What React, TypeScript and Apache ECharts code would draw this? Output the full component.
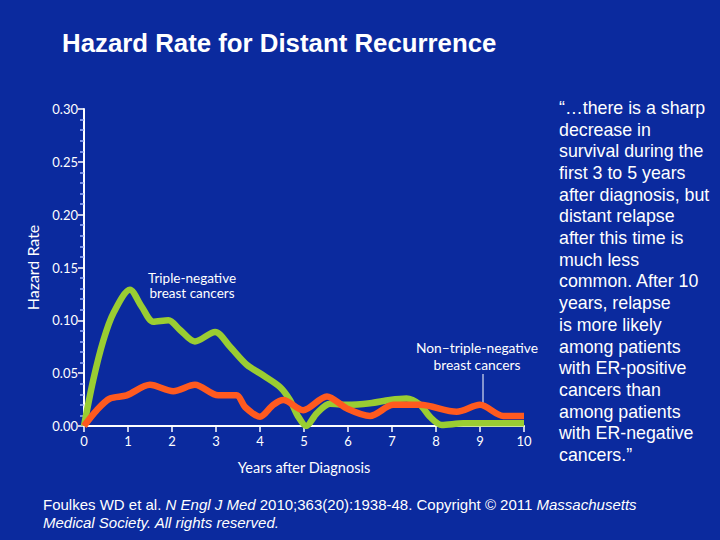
import React, { useEffect, useRef } from "react";
import * as echarts from "echarts";

const tripleNegX = [0, 0.21, 0.44, 0.67, 1.045, 1.31, 1.575, 1.92, 2.18, 2.52, 2.98, 3.32, 3.7, 4.07, 4.45, 4.68, 4.87, 5.05, 5.29, 5.59, 5.97, 6.5, 6.95, 7.33, 7.64, 7.86, 8.13, 8.62, 10.0];
const tripleNegY = [0, 0.0435, 0.081, 0.107, 0.129, 0.113, 0.0987, 0.1, 0.091, 0.08, 0.089, 0.075, 0.058, 0.048, 0.037, 0.0246, 0.0088, 0, 0.012, 0.021, 0.02, 0.0215, 0.0246, 0.026, 0.02, 0.0088, 0.001, 0.0025, 0.0025];

const nonTripleX = [0, 0.29, 0.59, 0.97, 1.5, 2.03, 2.52, 3.05, 3.47, 3.66, 4.0, 4.3, 4.53, 4.98, 5.52, 5.97, 6.5, 7.03, 7.64, 8.47, 9.0, 9.53, 10.0];
const nonTripleY = [0, 0.015, 0.026, 0.029, 0.039, 0.033, 0.039, 0.029, 0.029, 0.018, 0.0088, 0.02, 0.0246, 0.015, 0.028, 0.0167, 0.0095, 0.02, 0.02, 0.0135, 0.02, 0.0095, 0.0095];

const xTicks = [0, 1, 2, 3, 4, 5, 6, 7, 8, 9, 10];
const yTicks = ["0.00", "0.05", "0.10", "0.15", "0.20", "0.25", "0.30"];

const quoteLines = [
  "\u201c\u2026there is a sharp",
  "decrease in",
  "survival during the",
  "first 3 to 5 years",
  "after diagnosis, but",
  "distant relapse",
  "after this time is",
  "much less",
  "common. After 10",
  "years, relapse",
  "is more likely",
  "among patients",
  "with ER-positive",
  "cancers than",
  "among patients",
  "with ER-negative",
  "cancers.\u201d",
];

const BG = "#0B2A9E";
const GREEN = "#9ACD32";
const ORANGE = "#FF5A1F";
const FONT = "Lato";
const SANS = "'Liberation Sans', Arial, sans-serif";

export default function App() {
  const ref = useRef<HTMLDivElement>(null);
  useEffect(() => {
    if (!ref.current) return;
    const chart = echarts.init(ref.current, null, { renderer: "svg" });
    const pairs = (xs: number[], ys: number[]) => xs.map((x, i) => [x, ys[i]]);
    chart.setOption({
      animation: false,
      backgroundColor: BG,
      grid: { left: 84, right: 196, top: 109, bottom: 114 },
      xAxis: {
        type: "value",
        min: 0,
        max: 10,
        interval: 1,
        name: "Years after Diagnosis",
        nameLocation: "middle",
        nameGap: 34,
        nameTextStyle: { color: "#ffffff", fontSize: 14.5, fontFamily: FONT },
        axisLine: { lineStyle: { color: "#ffffff", width: 2 } },
        axisTick: { show: true, length: 6, lineStyle: { color: "#ffffff", width: 1.5 } },
        axisLabel: {
          color: "#ffffff",
          fontSize: 13,
          fontFamily: FONT,
          margin: 8,
          formatter: (v: number) => String(xTicks.indexOf(v) >= 0 ? v : ""),
        },
        splitLine: { show: false },
      },
      yAxis: {
        type: "value",
        min: 0,
        max: 0.3,
        interval: 0.05,
        name: "Hazard Rate",
        nameLocation: "middle",
        nameGap: 44,
        nameRotate: 90,
        nameTextStyle: { color: "#ffffff", fontSize: 16, fontFamily: FONT },
        axisLine: { show: true, lineStyle: { color: "#ffffff", width: 2 } },
        axisTick: { show: true, length: 6, lineStyle: { color: "#ffffff", width: 1.5 } },
        minorTick: { show: true, splitNumber: 5, length: 4, lineStyle: { color: "#9fb3ff", width: 1.5 } },
        axisLabel: {
          color: "#ffffff",
          fontSize: 13,
          fontFamily: FONT,
          margin: 6,
          formatter: (v: number) => yTicks[Math.round(v / 0.05)] ?? "",
        },
        splitLine: { show: false },
      },
      series: [
        {
          type: "line",
          name: "Triple-negative breast cancers",
          data: pairs(tripleNegX, tripleNegY),
          smooth: 0.3,
          showSymbol: false,
          lineStyle: { color: GREEN, width: 6.5 },
          z: 2,
        },
        {
          type: "line",
          name: "Non-triple-negative breast cancers",
          data: pairs(nonTripleX, nonTripleY),
          smooth: 0.3,
          showSymbol: false,
          lineStyle: { color: ORANGE, width: 6.5 },
          z: 3,
        },
      ],
      graphic: [
        {
          type: "text",
          left: 62,
          top: 30,
          style: {
            text: "Hazard Rate for Distant Recurrence",
            fill: "#ffffff",
            font: `bold 25.8px ${SANS}`,
          },
        },
        {
          type: "text",
          x: 192,
          y: 285,
          style: {
            text: "Triple-negative\nbreast cancers",
            fill: "#ffffff",
            font: `13.5px ${FONT}`,
            align: "center",
            verticalAlign: "middle",
            lineHeight: 15,
          },
        },
        {
          type: "text",
          x: 477,
          y: 356,
          style: {
            text: "Non\u2013triple-negative\nbreast cancers",
            fill: "#ffffff",
            font: `13.8px ${FONT}`,
            align: "center",
            verticalAlign: "middle",
            lineHeight: 17,
          },
        },
        {
          type: "line",
          shape: { x1: 483, y1: 374, x2: 483, y2: 404 },
          style: { stroke: "#ffffff", lineWidth: 1 },
          z: 1,
        },
        {
          type: "text",
          x: 559,
          y: 97,
          style: {
            text: quoteLines.join("\n"),
            fill: "#ffffff",
            font: `17.8px ${SANS}`,
            lineHeight: 21.7,
          },
        },
        {
          type: "text",
          x: 43,
          y: 495,
          style: {
            text:
              "{n|Foulkes WD et al. }{i|N Engl J Med}{n| 2010;363(20):1938-48. Copyright \u00a9 2011 }{i|Massachusetts}\n{i|Medical Society. All rights reserved.}",
            fill: "#ffffff",
            font: `15px ${SANS}`,
            lineHeight: 18,
            rich: {
              n: { fill: "#ffffff", fontSize: 15, fontFamily: SANS, lineHeight: 18 },
              i: { fill: "#ffffff", fontSize: 15, fontStyle: "italic", fontFamily: SANS, lineHeight: 18 },
            },
          },
        },
      ],
    });
    return () => chart.dispose();
  }, []);
  return (
    <div
      ref={ref}
      style={{ position: "fixed", left: 0, top: 0, width: 720, height: 540 }}
    />
  );
}
